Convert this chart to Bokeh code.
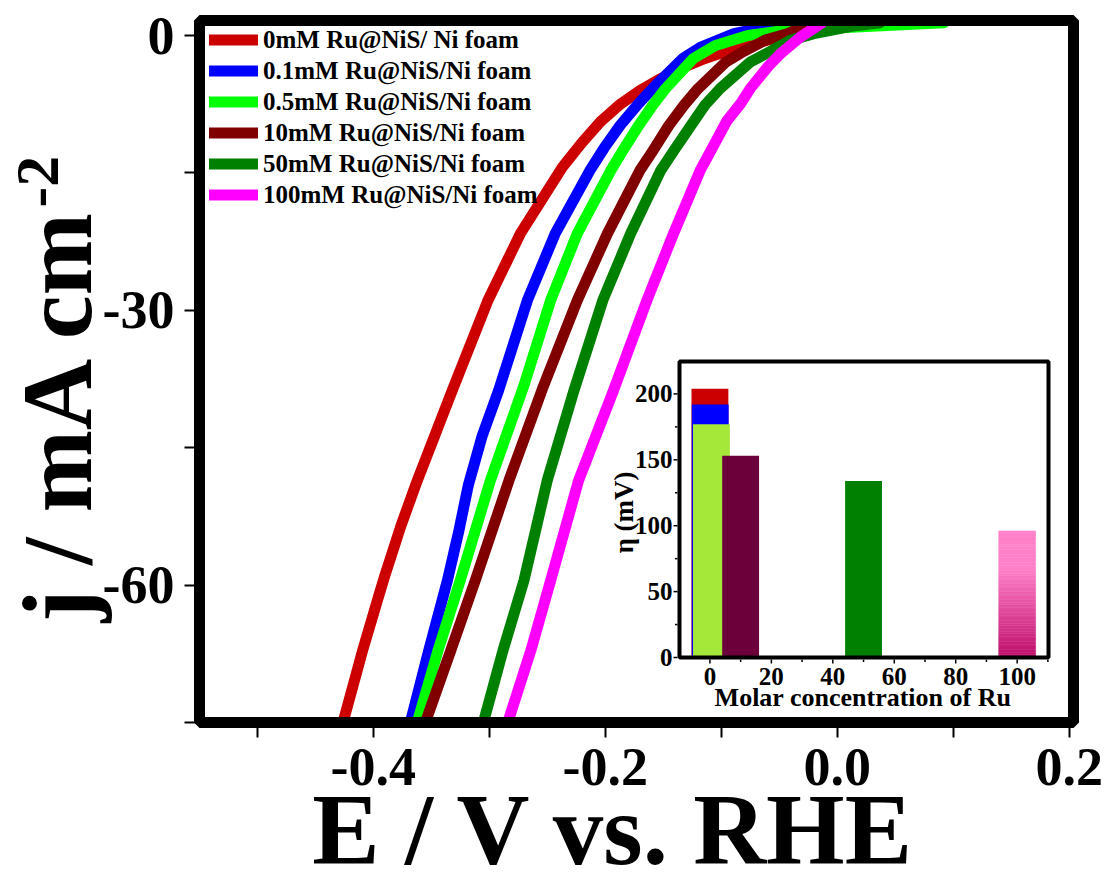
import math
from bokeh.plotting import figure
from bokeh.models import (Range1d, FixedTicker, PrintfTickFormatter, Label, Legend, LegendItem)
from bokeh.embed import file_html
from bokeh.resources import INLINE
from bokeh.core.properties import value

FONT = "Liberation Serif"

# ---------------- data: LSV curves (E in V vs RHE, j in mA cm^-2) ----------------
series_labels = ["0mM Ru@NiS/ Ni foam", "0.1mM Ru@NiS/Ni foam", "0.5mM Ru@NiS/Ni foam",
                 "10mM Ru@NiS/Ni foam", "50mM Ru@NiS/Ni foam", "100mM Ru@NiS/Ni foam"]
series_colors = ["#CC0000", "#0000FF", "#00FF00", "#800000", "#008000", "#FF00FF"]

E_0mM = [-0.426, -0.409, -0.395, -0.390, -0.376, -0.362, -0.332, -0.301, -0.273, -0.237, -0.220,
         -0.204, -0.187, -0.170, -0.152, -0.135, -0.114, -0.088, -0.057, -0.032]
j_0mM = [-75.0, -67.1, -61.1, -59.0, -53.5, -48.6, -38.8, -28.9, -21.6, -14.4, -11.7,
         -9.4, -7.5, -6.0, -4.7, -3.6, -2.5, -1.4, -0.4, 0.2]

E_0p1mM = [-0.368, -0.352, -0.336, -0.326, -0.318, -0.306, -0.292, -0.267, -0.243, -0.213, -0.201,
           -0.187, -0.171, -0.157, -0.133, -0.118, -0.089, -0.055, -0.040]
j_0p1mM = [-75.0, -67.1, -59.5, -54.0, -49.1, -43.7, -38.8, -28.9, -21.6, -14.7, -12.3,
           -9.8, -7.4, -5.5, -2.5, -1.3, 0.2, 1.1, 1.4]

E_0p5mM = [-0.362, -0.344, -0.325, -0.299, -0.270, -0.247, -0.224, -0.195, -0.185, -0.171, -0.159,
           -0.148, -0.124, -0.105, -0.077, -0.049, 0.012, 0.092]
j_0p5mM = [-75.0, -67.1, -59.5, -48.6, -38.2, -28.9, -21.6, -14.7, -12.6, -9.8, -7.6,
           -5.8, -2.5, -1.1, 0.0, 0.5, 0.9, 1.4]

E_10mM = [-0.355, -0.333, -0.312, -0.283, -0.253, -0.224, -0.198, -0.170, -0.159, -0.145, -0.132,
          -0.120, -0.096, -0.083, -0.062, -0.043, -0.032, -0.021]
j_10mM = [-75.0, -67.1, -59.5, -48.6, -38.2, -28.9, -21.6, -14.7, -12.6, -9.8, -7.6,
          -5.8, -2.9, -1.9, -0.5, 0.2, 0.8, 1.4]

E_50mM = [-0.305, -0.288, -0.270, -0.250, -0.227, -0.202, -0.178, -0.152, -0.141, -0.126, -0.114,
          -0.101, -0.075, -0.060, -0.040, -0.020, 0.012, 0.037]
j_50mM = [-75.0, -67.1, -59.5, -48.6, -38.8, -28.9, -21.6, -14.7, -12.6, -9.8, -7.6,
          -5.8, -2.9, -1.9, -0.5, 0.2, 1.0, 1.4]

E_100mM = [-0.284, -0.264, -0.247, -0.223, -0.193, -0.164, -0.141, -0.118, -0.109, -0.095, -0.083,
           -0.075, -0.059, -0.049, -0.032, -0.020, -0.013]
j_100mM = [-75.0, -67.1, -59.5, -48.6, -38.8, -28.9, -21.6, -14.7, -12.6, -9.3, -7.4,
           -5.8, -3.3, -2.0, -0.2, 0.8, 1.4]

E_list = [E_0mM, E_0p1mM, E_0p5mM, E_10mM, E_50mM, E_100mM]
j_list = [j_0mM, j_0p1mM, j_0p5mM, j_10mM, j_50mM, j_100mM]

x_major = [-0.4, -0.2, 0.0, 0.2]
x_minor = [-0.5, -0.3, -0.1, 0.1]
y_major = [0, -30, -60]
y_minor = [-15, -45, -75]

# ---------------- data: inset bars ----------------
conc_mM = [0, 0.1, 0.5, 10, 50, 100]
eta_mV = [204, 192, 177, 153, 134, 96]
bar_colors = ["#CC0000", "#0000FF", "#A6E83A", "#6B003B", "#008000", "#FF80C8"]
pink_bottom = "#BE0E6A"
inset_x_major = [0, 20, 40, 60, 80, 100]
inset_x_minor = [10, 30, 50, 70, 90, 110]
inset_y_major = [0, 50, 100, 150, 200]
inset_y_minor = [25, 75, 125, 175]

# ---------------- layout constants (pixels) ----------------
W, H = 1108, 874
FL, FR, FT, FB = 199, 1073, 20, 722          # visible main plot box
XR = (-0.5497, 0.2037)                       # data extent of that box
YR = (-75.0, 1.64)
IL, IR, IT, IB = 679, 1048, 361, 657         # inset box
IXR = (-9.9, 110.2)
IYR = (0.0, 224.6)
BAR_W = 12

# The Bokeh frame covers the whole canvas; the ranges are extended so that the
# visible box keeps the data extent above. Axes are pinned to the box edges.
def ext(lo, hi, p_lo, p_hi, total):
    k = (p_hi - p_lo) / (hi - lo)
    return lo - p_lo / k, hi + (total - p_hi) / k, k

mx0, mx1, kxm = ext(XR[0], XR[1], FL, FR, W)
my0, my1, kym = ext(YR[0], YR[1], H - FB, H - FT, H)
ix0, ix1, kx = ext(IXR[0], IXR[1], IL, IR, W)
iy0, iy1, ky = ext(IYR[0], IYR[1], H - IB, H - IT, H)

p = figure(width=W, height=H, output_backend="svg", toolbar_location=None,
           x_range=Range1d(mx0, mx1), y_range=Range1d(my0, my1), min_border=0)
p.title.visible = False
p.background_fill_color = "white"
p.border_fill_color = "white"
p.outline_line_color = None
p.xgrid.visible = False
p.ygrid.visible = False

p.xaxis.fixed_location = YR[0]
p.yaxis.fixed_location = XR[0]
for ax, tk, mn, fmt in [(p.xaxis[0], x_major, x_minor, "%.1f"), (p.yaxis[0], y_major, y_minor, "%d")]:
    ax.ticker = FixedTicker(ticks=tk, minor_ticks=mn)
    ax.formatter = PrintfTickFormatter(format=fmt)
    ax.axis_line_color = None
    ax.major_tick_in = 0
    ax.minor_tick_in = 0
    ax.major_tick_out = 15
    ax.minor_tick_out = 15
    ax.major_tick_line_width = 2
    ax.minor_tick_line_width = 2
    ax.major_tick_line_color = "black"
    ax.minor_tick_line_color = "black"
    ax.major_label_text_font = FONT
    ax.major_label_text_font_style = "bold"
    ax.major_label_text_font_size = "54px"
    ax.major_label_text_color = "black"
p.xaxis.major_label_standoff = 11
p.yaxis.major_label_standoff = 10

# curves
renderers = []
for E, j, c in zip(E_list, j_list, series_colors):
    r = p.line(E, j, line_color=c, line_width=11, line_cap="round", line_join="round")
    renderers.append(r)

# plot box border (drawn over the curve ends)
p.quad(left=[XR[0]], right=[XR[1]], bottom=[YR[0]], top=[YR[1]],
       fill_alpha=0, line_color="black", line_width=11)

row_h = 31
legend = Legend(items=[LegendItem(label=l, renderers=[r]) for l, r in zip(series_labels, renderers)],
                location=(FL + 10, H - (FT + 4 + 6 * row_h)), margin=0, padding=0, spacing=0,
                glyph_width=49, glyph_height=row_h, label_height=row_h, label_standoff=5,
                label_text_font=FONT, label_text_font_style="bold", label_text_font_size="25px",
                label_text_color="black", background_fill_alpha=0, border_line_color=None)
p.add_layout(legend)

# ---------------- inset via extra ranges ----------------
p.extra_x_ranges = {"ix": Range1d(ix0, ix1)}
p.extra_y_ranges = {"iy": Range1d(iy0, iy1)}
ins = dict(x_range_name="ix", y_range_name="iy")

p.quad(left=[IXR[0]], right=[IXR[1]], bottom=[IYR[0]], top=[IYR[1]],
       fill_color="white", line_color=None, **ins)

for xc, h, col in zip(conc_mM[:5], eta_mV[:5], bar_colors[:5]):
    p.vbar(x=[xc], top=[h], bottom=[0], width=BAR_W, fill_color=col, line_color=None, **ins)

# gradient bar (100 mM)
def _hex(c):
    c = c.lstrip("#")
    return [int(c[i:i + 2], 16) for i in (0, 2, 4)]
top_rgb, bot_rgb = _hex(bar_colors[5]), _hex(pink_bottom)
n = 48
bots, tops, cols = [], [], []
for k in range(n):
    f0, f1 = k / n, (k + 1) / n
    fm = (f0 + f1) / 2
    t = min(fm / 0.7, 1.0)
    rgb = [round(b + (a - b) * t) for a, b in zip(top_rgb, bot_rgb)]
    bots.append(eta_mV[5] * f0)
    tops.append(eta_mV[5] * f1)
    cols.append("#%02x%02x%02x" % tuple(rgb))
p.quad(left=[conc_mM[5] - BAR_W / 2] * n, right=[conc_mM[5] + BAR_W / 2] * n,
       bottom=bots, top=tops, fill_color=cols, line_color=cols, line_width=0.5, **ins)

# inset frame
p.quad(left=[IXR[0]], right=[IXR[1]], bottom=[IYR[0]], top=[IYR[1]],
       fill_alpha=0, line_color="black", line_width=4, **ins)

# inset ticks
half_b = 2
def xt(vals, L):
    p.segment(x0=vals, x1=vals, y0=[IYR[0] - half_b / ky] * len(vals),
              y1=[IYR[0] - (half_b + L) / ky] * len(vals), line_color="black", line_width=1.5, **ins)
def yt(vals, L):
    p.segment(x0=[IXR[0] - half_b / kx] * len(vals), x1=[IXR[0] - (half_b + L) / kx] * len(vals),
              y0=vals, y1=vals, line_color="black", line_width=1.5, **ins)
xt(inset_x_major, 4); xt(inset_x_minor, 2.5)
yt(inset_y_major, 4); yt(inset_y_minor, 2.5)

txt = dict(text_font=value(FONT), text_font_style="bold", text_color="black")
p.text(x=inset_x_major, y=[IYR[0]] * len(inset_x_major), text=[str(v) for v in inset_x_major],
       y_offset=19, text_align="center", text_baseline="middle", text_font_size="25px", **txt, **ins)
p.text(x=[IXR[0]] * len(inset_y_major), y=inset_y_major, text=[str(v) for v in inset_y_major],
       x_offset=-7, text_align="right", text_baseline="middle", text_font_size="25px", **txt, **ins)

# ---------------- text labels (canvas pixels; frame == canvas) ----------------
# note: font sizes such as "100px" break the SVG font parser, so 101px is used
def lab(text, cx, cy, size, angle=0.0, align="center"):
    p.add_layout(Label(x=cx, y=H - cy, x_units="screen", y_units="screen", text=text,
                       angle=angle, text_align=align, text_baseline="middle",
                       text_font=FONT, text_font_style="bold", text_font_size=size,
                       text_color="black"))

lab("E / V vs. RHE", 613.5, 829, "101px")
lab("j / mA cm", 57, 207, "99px", angle=math.pi / 2, align="right")
lab("-2", 37, 207, "62px", angle=math.pi / 2, align="left")
lab("Molar concentration of Ru", 862.5, 697, "26px")
lab("η (mV)", 623, 512, "27px", angle=math.pi / 2, align="center")

open("out.html", "w").write(file_html(p, INLINE))
